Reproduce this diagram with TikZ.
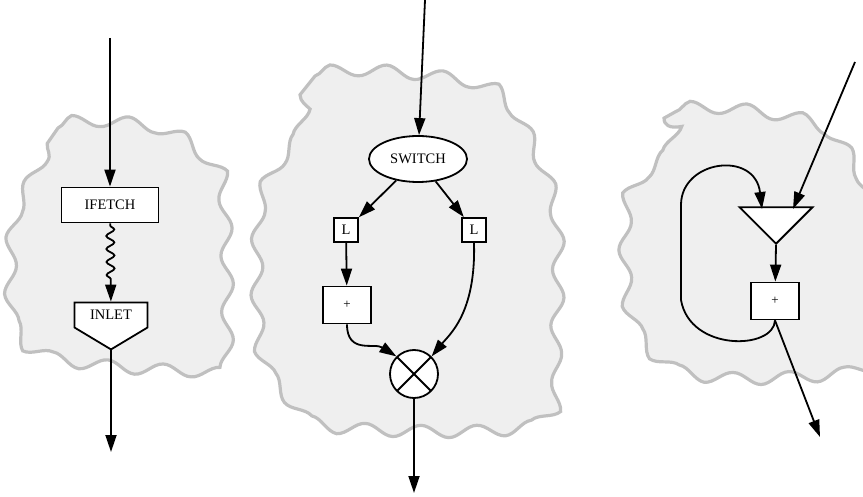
\documentclass[tikz,border=0pt]{standalone}
\usepackage{fontspec}
\setmainfont{Liberation Serif}
\usetikzlibrary{arrows.meta,calc,shapes.geometric,shapes.symbols,decorations.pathmorphing}
\definecolor{cloudfill}{RGB}{239,239,239}
\definecolor{cloudline}{RGB}{192,192,192}

\begin{document}
\begin{tikzpicture}[x=1pt,y=-1pt,
    cloud/.style={draw=cloudline,fill=cloudfill,line width=3.2pt,
      decorate,decoration={snake,segment length=56pt,amplitude=6pt}},
    edge/.style={-{Triangle[length=17pt,width=11pt]},line width=1.8pt},
    box/.style={draw,fill=white,line width=1.8pt,rectangle,inner sep=0pt,
      font=\fontsize{14.5}{16}\selectfont},
    plusbox/.style={box,minimum width=48pt,minimum height=37pt,font=\fontsize{13}{15}\selectfont}]
  \useasboundingbox (0,0) rectangle (863,497);

  % the three shaded regions
  \draw[cloud] plot[smooth cycle,tension=0.5] coordinates {(42,180) (58,128) (150,133)
    (195,162) (212,200) (214,372) (190,386) (60,374) (17,340) (16,240)};
  \draw[cloud] plot[smooth cycle,tension=0.5] coordinates {(300,142) (315,76) (470,88)
    (515,135) (545,215) (545,340) (528,428) (330,432) (285,410) (252,355) (252,210) (285,150)};
  \draw[cloud] plot[smooth cycle,tension=0.5] coordinates {(663,165) (675,112) (800,125)
    (840,165) (858,220) (858,352) (835,380) (720,387) (650,374) (613,320) (611,210) (643,168)};

  % fetch into an inlet
  \begin{scope}
    \node[box,minimum width=97pt,minimum height=35pt] (ifetch) at (110,205) {IFETCH};
    \node[box,shape=signal,signal to=south,signal pointer angle=118,minimum width=73pt,
      text height=10pt,text depth=0pt,inner ysep=7.5pt] (inlet) at (111,315) {INLET};
    \coordinate (in1) at (110,38);
    \coordinate (out1) at (111,452);
    \draw[edge] (in1) -- (ifetch);
    \draw[edge,decorate,decoration={snake,amplitude=4pt,segment length=13pt,
      pre length=2pt,post length=20pt}] (ifetch) -- (inlet);
    \draw[edge] (inlet.south) -- (out1);
  \end{scope}

  % switch and merge
  \begin{scope}
    \node[box,ellipse,minimum width=98pt,minimum height=46pt] (switch) at (418,159) {SWITCH};
    \node[box,minimum size=24pt] (ll) at (346,230) {L};
    \node[box,minimum size=24pt] (lr) at (474,230) {L};
    \node[plusbox] (pl) at (347,305) {+};
    \node[circle,draw,fill=white,line width=1.8pt,minimum size=48pt,inner sep=0pt,
      path picture={\draw[line width=1.8pt]
        (path picture bounding box.north west) -- (path picture bounding box.south east)
        (path picture bounding box.north east) -- (path picture bounding box.south west);}]
      (join) at (414,374) {};
    \coordinate (in2) at (425,0);
    \coordinate (out2) at (414,493);
    \draw[edge] (in2) -- (switch);
    \draw[edge] (switch) -- (ll);
    \draw[edge] (switch) -- (lr);
    \draw[edge] (ll) -- (pl);
    \draw[edge] (pl.south) .. controls +(0,30) and +(-22,-14) .. (join.north west);
    \draw[edge] (lr.south) .. controls +(2,70) and +(18,-22) .. (join.north east);
    \draw[edge] (join) -- (out2);
  \end{scope}

  % loop through a merge
  \begin{scope}
    \node[draw,fill=white,line width=1.8pt,isosceles triangle,isosceles triangle apex angle=90,
      rotate=-90,inner sep=0pt,minimum height=36.5pt,anchor=apex] (merge) at (776,245) {};
    \node[plusbox] (p3) at (775,301) {+};
    \coordinate (in3) at (855,62);
    \coordinate (out3) at (820,437);
    \draw[edge] (in3) -- ($(merge.apex)+(17,-36)$);
    \draw[edge] (merge.apex) -- (p3);
    \draw[edge] (p3.south) .. controls (774,350) and (690,352) .. (681,300) -- (681,205)
      .. controls (681,160) and (755,150) .. ($(merge.apex)+(-14,-36)$);
    \draw[edge] (p3.south) -- (out3);
  \end{scope}
\end{tikzpicture}
\end{document}
